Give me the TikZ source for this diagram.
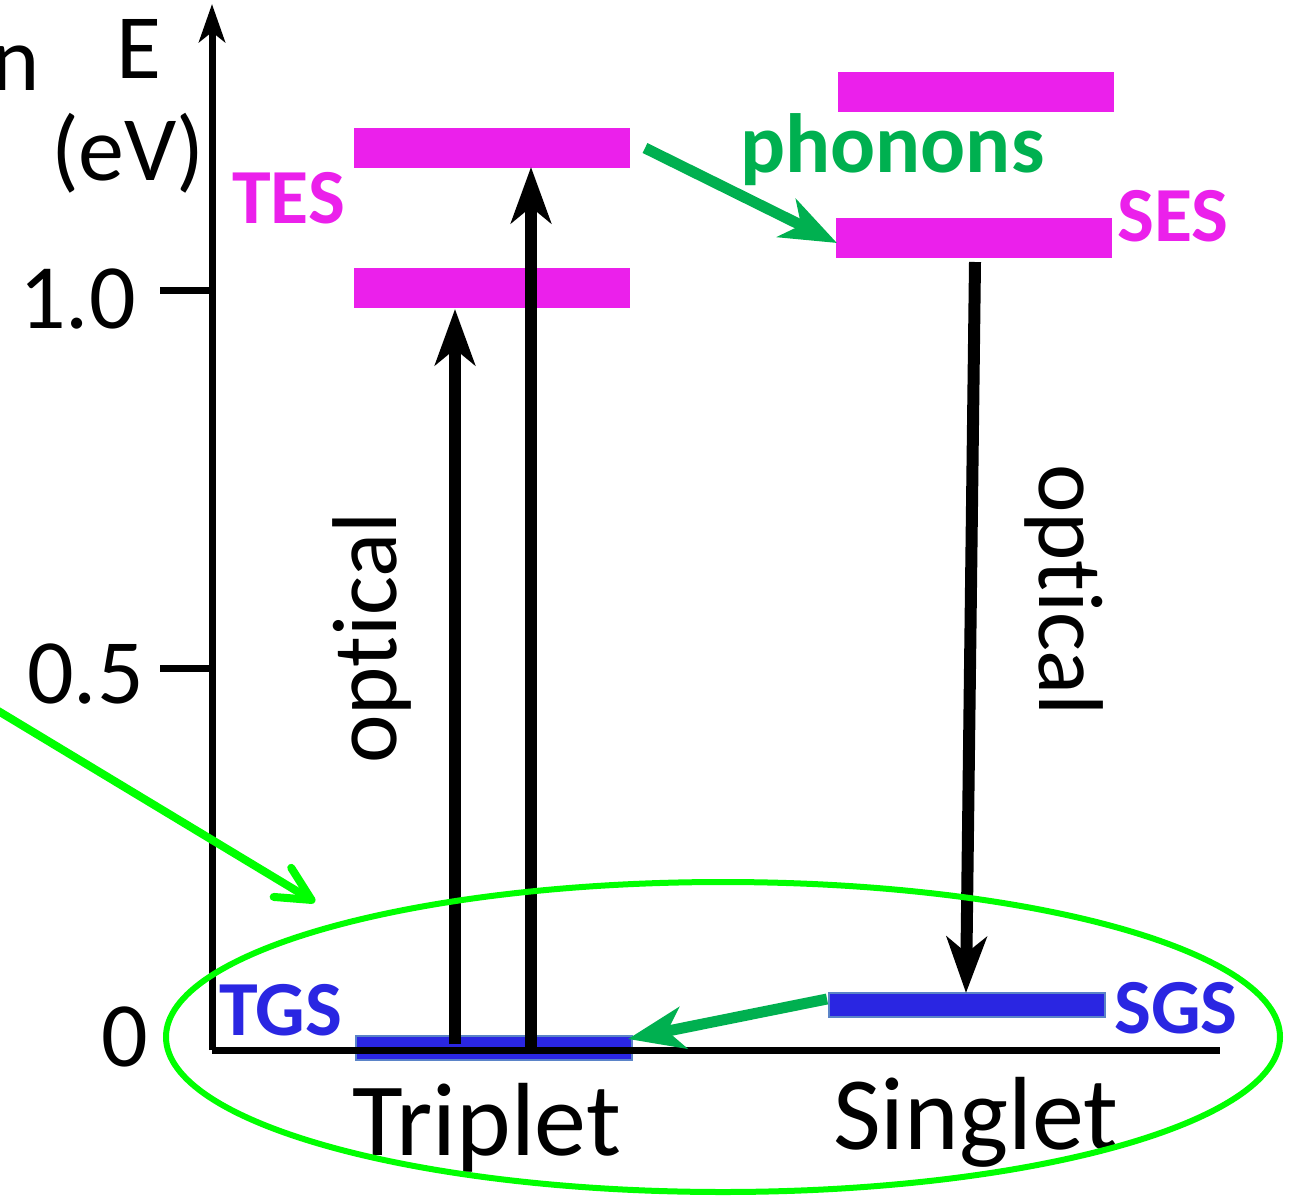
\documentclass[tikz,border=0pt]{standalone}
\usepackage{fontspec}
\setmainfont[Ligatures=NoCommon]{Carlito}
\usetikzlibrary{arrows.meta,shapes.geometric}
\definecolor{mag}{HTML}{EB20EB}
\definecolor{gsblue}{HTML}{2A26E2}
\definecolor{gsedge}{HTML}{5B84C8}
\definecolor{phgreen}{HTML}{00B050}
\definecolor{brgreen}{HTML}{00FF00}
\tikzset{
  esbar/.style={fill=mag, draw=none, minimum width=276pt, minimum height=40pt, inner sep=0pt},
  gsbar/.style={fill=gsblue, draw=gsedge, line width=2pt, minimum width=276pt, minimum height=24pt, inner sep=0pt},
  bigtxt/.style={font=\fontsize{92}{92}\selectfont, inner sep=0pt},
  axtxt/.style={font=\fontsize{104}{104}\selectfont, inner sep=0pt},
  lbl/.style={font=\fontsize{78}{78}\selectfont\bfseries, inner sep=0pt},
  blackarr/.style={line width=12pt, -{Stealth[length=56pt,width=40pt,inset=16pt]}},
  greenarr/.style={phgreen, line width=11pt, -{Stealth[length=56pt,width=42pt,inset=16pt]}},
}
\begin{document}
\begin{tikzpicture}[x=1pt,y=-1pt]
\useasboundingbox (0,0) rectangle (1291,1197);
% bars
\node[esbar] (tes2) at (492,148) {};
\node[esbar] (tes1) at (492,288) {};
\node[esbar] (ses2) at (976,92) {};
\node[esbar] (ses1) at (974,238) {};
\node[gsbar] (tgs) at (494,1048) {};
\node[gsbar] (sgs) at (967,1005) {};
% axes
\coordinate (origin) at (212,1050);
\coordinate (ytop) at (212,4);
\coordinate (xend) at (1220,1050);
\draw[line width=7pt, -{Stealth[length=38pt,width=26pt,inset=10pt]}] (origin) -- (ytop);
\draw[line width=7pt] (origin) -- (xend);
\coordinate (t1) at (212,290);
\coordinate (t1l) at (160,290);
\coordinate (t5) at (212,668);
\coordinate (t5l) at (160,668);
\draw[line width=7pt] (t1l) -- (t1);
\draw[line width=7pt] (t5l) -- (t5);
% axis labels
\node[bigtxt, anchor=base east] (n) at (40,90) {n};
\node[bigtxt, anchor=base west] (E) at (116,78) {E};
\node[bigtxt, anchor=base east] (eV) at (205,180) {(eV)};
\node[bigtxt, anchor=base east] (l1) at (136,328) {1.0};
\node[bigtxt, anchor=base east] (l5) at (144,703) {0.5};
\node[bigtxt, anchor=base east] (l0) at (148,1066) {0};
% state labels
\node[lbl, mag, anchor=base west] (tesl) at (232,223) {TES};
\node[lbl, mag, anchor=base west] (sesl) at (1117,241) {SES};
\node[lbl, gsblue, anchor=base west] (tgsl) at (219,1035) {TGS};
\node[lbl, gsblue, anchor=base west] (sgsl) at (1114,1033) {SGS};
\node[font=\fontsize{84}{84}\selectfont\bfseries, inner sep=0pt, phgreen, anchor=base west] (ph) at (740,172) {phonons};
\node[axtxt, anchor=base west] (trip) at (352,1155) {Triplet};
\node[axtxt, anchor=base west] (sing) at (833,1149) {Singlet};
\node[bigtxt, rotate=90] (opt1) at (372,638) {optical};
\node[bigtxt, rotate=-90] (opt2) at (1064,590) {optical};
% optical arrows
\coordinate (a1s) at (455,1044);
\coordinate (a1e) at (455,309);
\coordinate (a2s) at (531,1048);
\coordinate (a2e) at (531,167);
\draw[blackarr] (a1s) -- (a1e);
\draw[blackarr] (a2s) -- (a2e);
\coordinate (a3s) at (975,262);
\coordinate (a3e) at (966,993);
\draw[blackarr] (a3s) -- (a3e);
% phonon arrows
\coordinate (p1s) at (645,148);
\coordinate (p1e) at (837,243);
\draw[greenarr] (p1s) -- (p1e);
\coordinate (p2s) at (827,999);
\coordinate (p2e) at (628,1039);
\draw[greenarr] (p2s) -- (p2e);
% bright green pointer and ellipse
\node[draw=brgreen, line width=6pt, ellipse, minimum width=1114pt, minimum height=310pt, inner sep=0pt] (ell) at (723,1037) {};
\coordinate (gs) at (-5,709);
\coordinate (ge) at (315,902);
\draw[brgreen, line width=8pt, line cap=round, -{Straight Barb[length=34pt,width=34pt,round]}] (gs) -- (ge);
\end{tikzpicture}
\end{document}
